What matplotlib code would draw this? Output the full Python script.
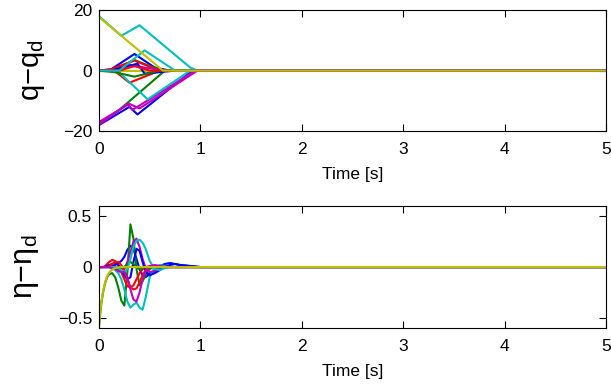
import matplotlib
matplotlib.use("Agg")
import matplotlib.pyplot as plt

plt.rcParams['font.family'] = ['Liberation Sans', 'DejaVu Sans']
plt.rcParams['mathtext.default'] = 'regular'

# MATLAB default colour order (b, g, r, c, m, y)
COLORS = [(0, 0, 1), (0, 0.5, 0), (1, 0, 0), (0, 0.75, 0.75), (0.75, 0, 0.75), (0.75, 0.75, 0)]

# --- q - q_d : breakpoints (time [s], error) ---
q_time = [
    [0, 0.30, 0.38, 0.92, 5],
    [0, 0.20, 0.65, 5],
    [0, 0.15, 0.30, 0.45, 0.60, 5],
    [0, 0.22, 0.40, 0.90, 0.97, 5],
    [0, 0.28, 0.33, 0.95, 5],
    [0, 5],
    [0, 0.10, 0.35, 0.55, 0.70, 5],
    [0, 0.15, 0.35, 0.50, 0.65, 5],
    [0, 0.12, 0.35, 0.60, 5],
    [0, 0.18, 0.48, 0.90, 5],
    [0, 0.15, 0.30, 0.45, 0.65, 5],
    [0, 5],
    [0, 0.12, 0.38, 0.45, 0.75, 5],
    [0, 0.15, 0.35, 0.60, 5],
    [0, 0.20, 0.35, 0.50, 5],
    [0, 0.20, 0.45, 0.75, 5],
    [0, 0.30, 0.40, 0.97, 5],
    [0, 0.63, 5],
]
q_err = [
    [-18, -12, -14.5, 0, 0],
    [-17.5, -13, 0, 0],
    [0, 0, -4, -2, 0, 0],
    [18, 11.5, 15, 1, 0, 0],
    [-18, -11, -13, 0, 0],
    [0, 0],
    [0, 0, 5.5, 1, 0, 0],
    [0, 0.5, 3.5, 1.5, 0, 0],
    [0, 0.5, 3.3, 0, 0],
    [0, 0, -9.5, 0, 0],
    [0, 0, 2, 1, 0, 0],
    [0, 0],
    [0, 0, 2.3, -1, 0, 0],
    [0, -0.5, -2, 0, 0],
    [0, 0, 1.5, 0, 0],
    [0, 0, 6.7, 0, 0],
    [-17, -11, -12.5, 0, 0],
    [17.7, 0, 0],
]

# --- eta - eta_d : samples ---
eta_time = [0, .02, .04, .06, .08, .10, .13, .16, .19, .22, .25, .28, .31, .34,
            .37, .40, .43, .46, .50, .55, .60, .65, .70, .75, .80, .90, 1.0, 5.0]
eta_err = [
    [0, 0, 0, 0, 0, 0, .01, .02, .04, .06, .10, .17, .21, .18, .08, -.02, -.08, -.10, -.07, -.03, .01, .03, .04, .03, .02, .01, 0, 0],
    [-.58, -.38, -.25, -.16, -.10, -.07, -.06, -.10, -.20, -.33, -.38, -.05, .42, .28, -.02, -.18, -.14, -.08, -.02, .01, .01, 0, 0, 0, 0, 0, 0, 0],
    [0, 0, 0, .01, .03, .05, .07, .06, .02, -.05, -.12, -.19, -.20, -.18, -.12, -.06, -.02, 0, .01, 0, 0, 0, 0, 0, 0, 0, 0, 0],
    [0, 0, 0, 0, 0, 0, -.01, -.03, -.06, -.12, -.22, -.34, -.40, -.37, -.35, -.40, -.42, -.30, -.10, 0, .02, .01, 0, 0, 0, 0, 0, 0],
    [0, 0, 0, 0, 0, 0, 0, -.01, -.02, -.03, -.02, .05, .15, .25, .28, .20, .08, -.01, -.05, -.04, -.01, 0, 0, 0, 0, 0, 0, 0],
    [0, 0, 0, 0, 0, 0, 0, 0, 0, 0, 0, 0, 0, 0, 0, 0, 0, 0, 0, 0, 0, 0, 0, 0, 0, 0, 0, 0],
    [0, 0, 0, 0, .01, .02, .03, .04, .02, -.03, -.08, -.12, -.10, .05, .18, .16, .05, -.05, -.08, -.06, -.03, 0, .02, .03, .02, .01, 0, 0],
    [0, 0, 0, 0, 0, 0, -.01, -.02, -.03, -.02, 0, .03, .05, .03, 0, -.02, -.01, 0, 0, 0, 0, 0, 0, 0, 0, 0, 0, 0],
    [0, 0, 0, 0, 0, .01, .03, .05, .05, .02, -.04, -.12, -.20, -.22, -.21, -.15, -.08, -.03, 0, .01, 0, 0, 0, 0, 0, 0, 0, 0],
    [0, 0, 0, 0, 0, 0, 0, 0, -.01, -.03, -.05, -.02, .08, .20, .26, .27, .24, .18, .06, -.02, -.03, -.01, 0, 0, 0, 0, 0, 0],
    [0, 0, 0, 0, 0, 0, -.01, -.02, -.04, -.05, -.05, -.10, -.22, -.32, -.34, -.25, -.12, -.04, .01, .02, .01, 0, 0, 0, 0, 0, 0, 0],
    [-.58, -.37, -.24, -.15, -.09, -.055, -.025, -.01, -.003, 0, 0, 0, 0, 0, 0, 0, 0, 0, 0, 0, 0, 0, 0, 0, 0, 0, 0, 0],
]

x_ticks = [0, 1, 2, 3, 4, 5]
q_ticks = [-20, 0, 20]
eta_ticks = [-0.5, 0, 0.5]
eta_tick_labels = ['\u22120.5', '0', '0.5']


def _style_ax(ax):
    ax.tick_params(direction='in', top=True, right=True, length=5, width=0.8,
                   labelsize=12.5)
    ax.tick_params(axis='x', pad=8)
    ax.tick_params(axis='y', pad=5)
    for s in ax.spines.values():
        s.set_linewidth(0.8)
    ax.set_xlim(0, 5)
    ax.set_xticks(x_ticks)
    ax.set_xlabel('Time [s]', fontsize=12.5, labelpad=7)


fig = plt.figure(figsize=(6.11, 3.89), dpi=100)
ax1 = fig.add_axes([0.162, 0.663, 0.830, 0.311])
ax2 = fig.add_axes([0.162, 0.157, 0.830, 0.313])

for i, (t, v) in enumerate(zip(q_time, q_err)):
    ax1.plot(t, v, color=COLORS[i % 6], lw=1.5)
ax1.set_ylim(-20, 20)
ax1.set_yticks(q_ticks)
ax1.set_ylabel('q\u2212q$_d$', fontsize=21)
ax1.yaxis.set_label_coords(-0.103, 0.5)
_style_ax(ax1)

for i, v in enumerate(eta_err):
    ax2.plot(eta_time, v, color=COLORS[i % 6], lw=1.5)
ax2.set_ylim(-0.6, 0.6)
ax2.set_yticks(eta_ticks)
ax2.set_yticklabels(eta_tick_labels)
ax2.set_ylabel('\u03b7\u2212\u03b7$_d$', fontsize=22)
ax2.yaxis.set_label_coords(-0.115, 0.5)
_style_ax(ax2)

plt.savefig('out.png', dpi=100)
plt.close()
